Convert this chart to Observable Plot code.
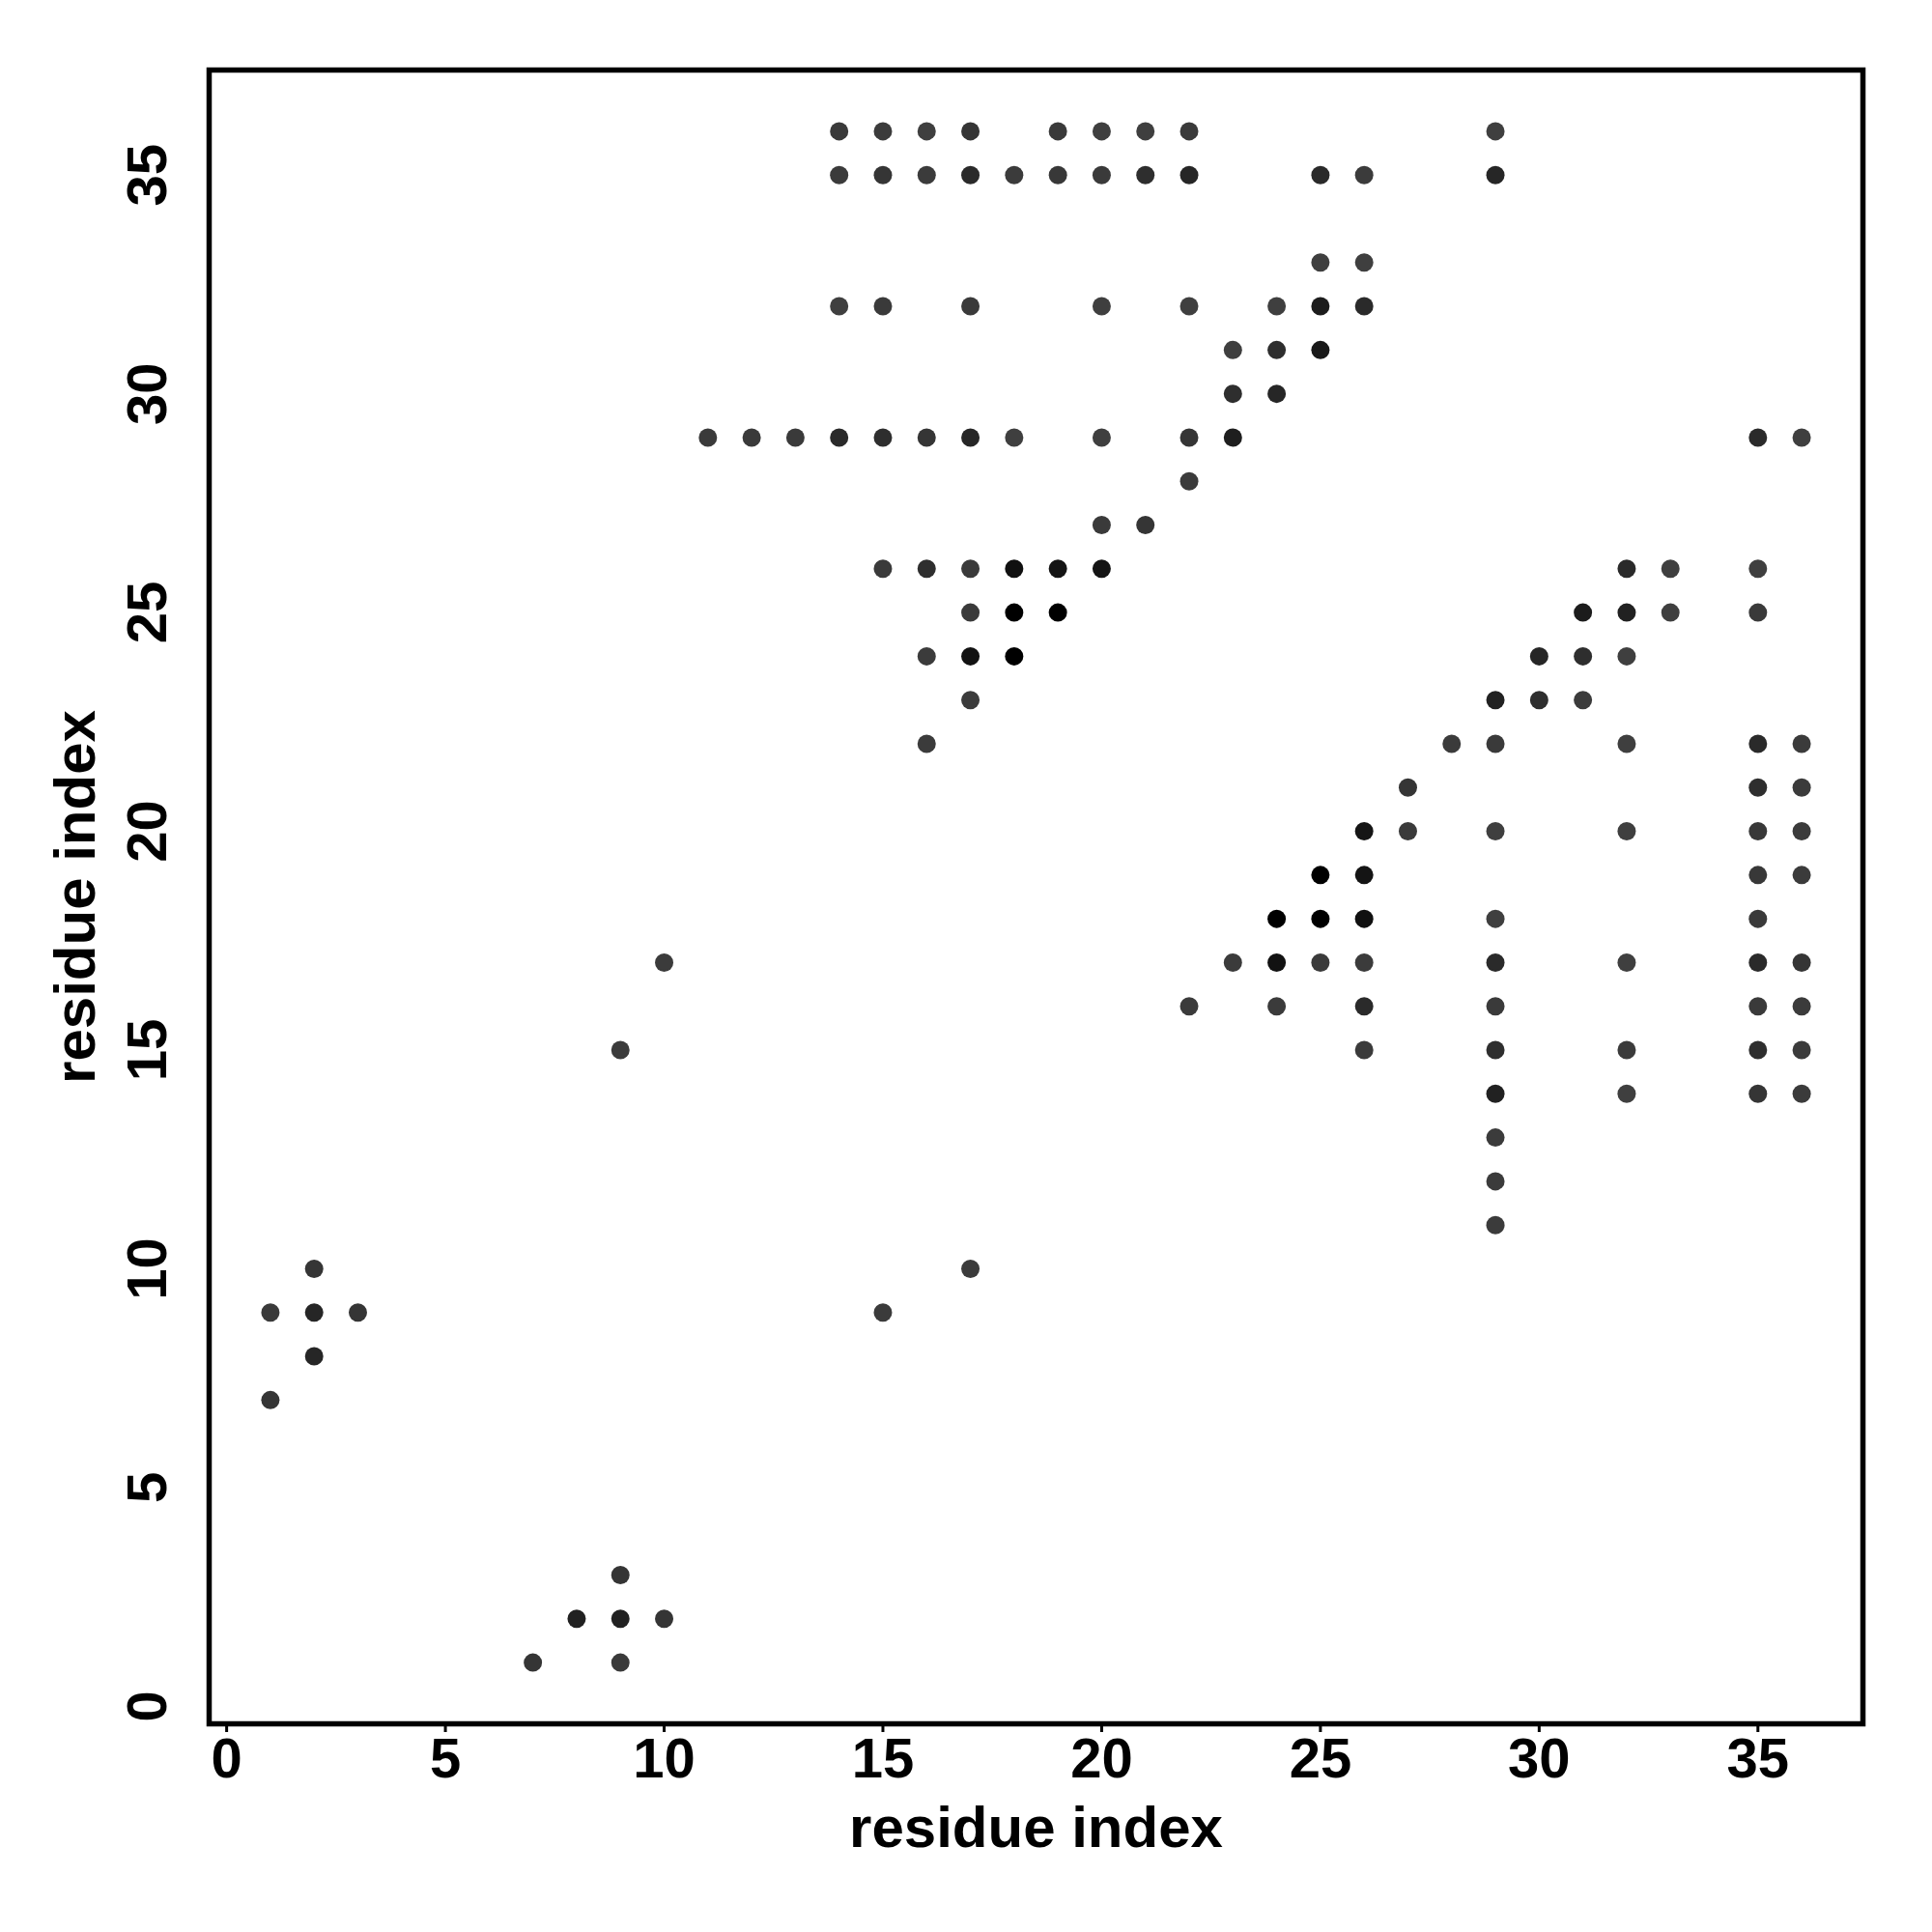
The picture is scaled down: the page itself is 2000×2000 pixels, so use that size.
<!DOCTYPE html>
<html><head><meta charset="utf-8">
<script src="https://cdn.jsdelivr.net/npm/d3@7"></script>
<script src="https://cdn.jsdelivr.net/npm/@observablehq/plot@0.6"></script>
<style>html,body{margin:0;padding:0;background:#fff;} svg{display:block}</style>
</head><body><div id="chart"></div>
<script>
// Each row: the y residue index, the x residue indices in contact, and a contact score (darkness)
const rowY = [36, 35, 33, 32, 31, 30, 29, 28, 27, 26, 25, 24, 23, 22, 21, 20, 19, 18, 17, 16, 15, 14, 13, 12, 11, 10, 9, 8, 7, 3, 2, 1];
const rowX = [
  [14,15,16,17,19,20,21,22,29],
  [14,15,16,17,18,19,20,21,22,25,26,29],
  [25,26],
  [14,15,17,20,22,24,25,26],
  [23,24,25],
  [23,24],
  [11,12,13,14,15,16,17,18,20,22,23,35,36],
  [22],
  [20,21],
  [15,16,17,18,19,20,32,33,35],
  [17,18,19,31,32,33,35],
  [16,17,18,30,31,32],
  [17,29,30,31],
  [16,28,29,32,35,36],
  [27,35,36],
  [26,27,29,32,35,36],
  [25,26,35,36],
  [24,25,26,29,35],
  [10,23,24,25,26,29,32,35,36],
  [22,24,26,29,35,36],
  [9,26,29,32,35,36],
  [29,32,35,36],
  [29],
  [29],
  [29],
  [2,17],
  [1,2,3,15],
  [2],
  [1],
  [9],
  [8,9,10],
  [7,9]
];
const rowScore = [
  [.12,.1,.05,.2,.12,.05,.05,.12,.05],
  [.1,.2,.1,.36,.1,.15,.12,.3,.42,.36,.1,.42],
  [.05,.05],
  [.05,.12,.12,.05,.05,.05,.57,.36],
  [.05,.3,.62],
  [.3,.42],
  [.12,.12,.12,.36,.3,.2,.42,.05,.05,.2,.55,.36,.05],
  [.1],
  [.12,.2],
  [.12,.3,.12,.76,.7,.7,.36,.05,.05],
  [.12,1,1,.57,.5,.05,.12],
  [.1,.72,1,.42,.3,.05],
  [.1,.5,.3,.1],
  [.1,.1,.12,.05,.36,.1],
  [.2,.3,.1],
  [.68,.12,.05,.05,.15,.1],
  [1,.7,.15,.1],
  [1,1,.76,.05,.12],
  [.1,.1,.72,.12,.1,.36,.05,.36,.2],
  [.1,.1,.36,.12,.12,.1],
  [.1,.12,.3,.1,.3,.1],
  [.5,.05,.2,.1],
  [.1],
  [.1],
  [.1],
  [.2,.1],
  [.12,.42,.2,.1],
  [.42],
  [.2],
  [.2],
  [.5,.5,.2],
  [.2,.12]
];
const xTicks = [0, 5, 10, 15, 20, 25, 30, 35];
const yTicks = [0, 5, 10, 15, 20, 25, 30, 35];
const xTitle = "residue index";
const yTitle = "residue index";

const data = rowY.flatMap((y, i) => rowX[i].map((x, j) => ({x, y, s: rowScore[i][j]})));

const font = "'Liberation Sans', Arial, Helvetica, sans-serif";

const chart = Plot.plot({
  width: 2000,
  height: 2000,
  marginLeft: 216,
  marginRight: 72,
  marginTop: 72,
  marginBottom: 216,
  style: {fontFamily: font, background: "#fff", color: "#000"},
  x: {domain: [-0.4, 37.4], label: null},
  y: {domain: [-0.4, 37.4], label: null},
  color: {type: "linear", domain: [0, 1], range: ["#424242", "#000000"], interpolate: "rgb"},
  marks: [
    Plot.dot(data, {x: "x", y: "y", r: 9.5, fill: "s", stroke: null}),
    Plot.frame({stroke: "#000", strokeWidth: 5.5}),
    Plot.axisX({ticks: xTicks, tickSize: 9, tickPadding: 5, strokeWidth: 3, fontSize: 58, fontWeight: "bold", label: null, lineAnchor: "top"}),
    Plot.axisY({ticks: yTicks, tickSize: 9, tickPadding: 36, strokeWidth: 3, fontSize: 58, fontWeight: "bold", label: null, rotate: -90, textAnchor: "middle", lineAnchor: "bottom"}),
    Plot.text([xTitle], {text: d => d, frameAnchor: "bottom", lineAnchor: "bottom", dy: 127, fontSize: 60, fontWeight: "bold"}),
    Plot.text([yTitle], {text: d => d, frameAnchor: "left", rotate: -90, textAnchor: "middle", lineAnchor: "bottom", dx: -119, fontSize: 60, fontWeight: "bold"})
  ]
});
document.getElementById("chart").append(chart);
</script>
</body></html>
